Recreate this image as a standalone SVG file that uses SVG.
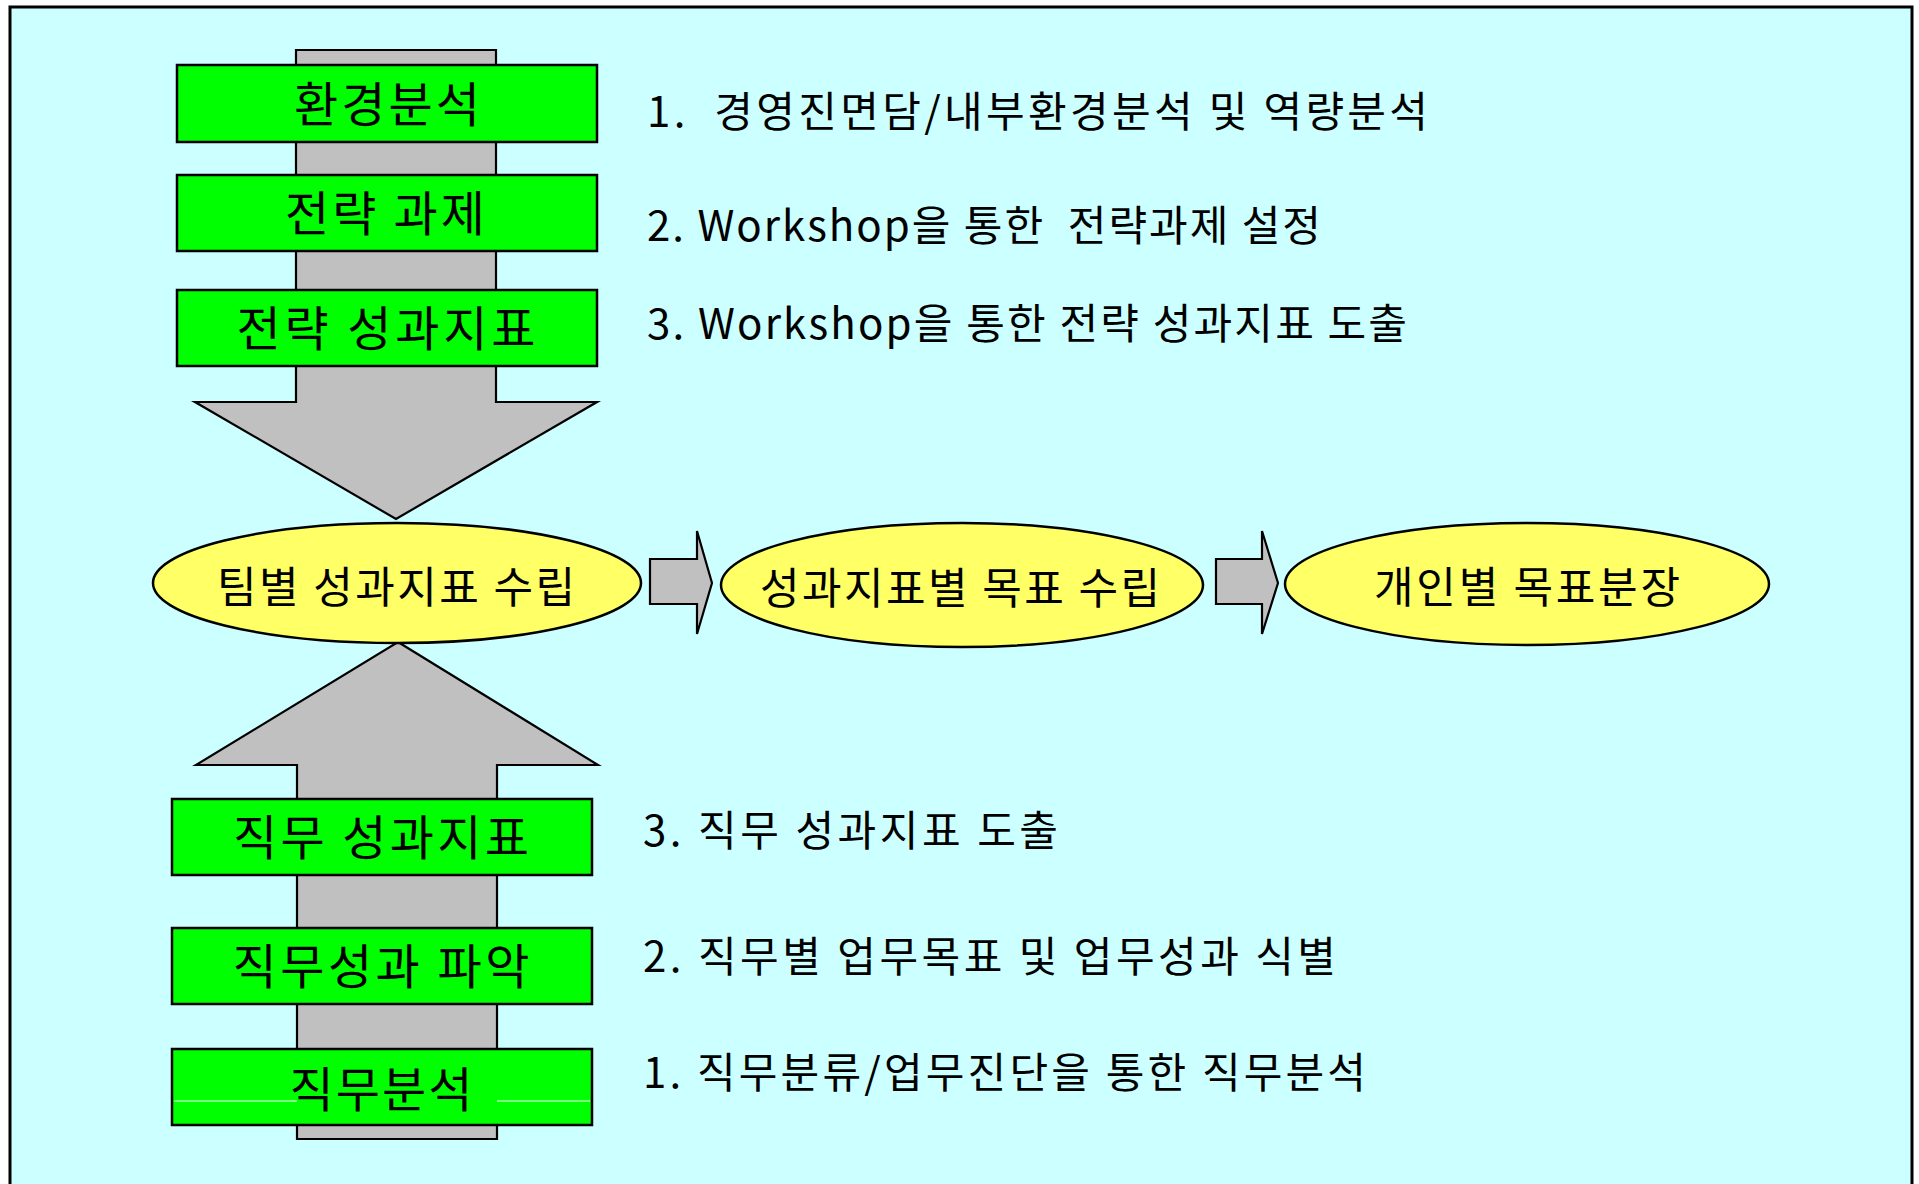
<svg xmlns="http://www.w3.org/2000/svg" width="1919" height="1184" viewBox="0 0 1919 1184">
<style>
.box{fill:#00FF00;stroke:#000;stroke-width:2.5}
.ell{fill:#FFFF66;stroke:#000;stroke-width:2.5}
.arr{fill:#C0C0C0;stroke:#000;stroke-width:2.2;stroke-linejoin:miter}
.bt{font-family:"Noto Sans CJK KR","Noto Sans",sans-serif;font-size:48px;fill:#000;text-anchor:middle}
.et{font-family:"Noto Sans CJK KR","Noto Sans",sans-serif;font-size:43px;fill:#000;text-anchor:middle}
.rt{font-family:"Noto Sans CJK KR","Noto Sans",sans-serif;font-size:42px;fill:#000;white-space:pre}
</style>
<rect x="0" y="0" width="1919" height="1184" fill="#FFFFFF"/>
<rect id="frame" x="10" y="7" width="1902" height="1200" fill="#CCFFFF" stroke="#000" stroke-width="3"/>
<g id="connectors">
<polygon id="arrow-down" class="arr" points="296,50 496,50 496,402 597,402 396,519 195,402 296,402"/>
<polygon id="arrow-up" class="arr" points="398,642 598,765 497,765 497,1139 297,1139 297,765 196,765"/>
<polygon id="arrow-right-1" class="arr" points="650,559 697,559 697,531 712,583 697,634 697,604 650,604"/>
<polygon id="arrow-right-2" class="arr" points="1216,559 1262,559 1262,531 1278,583 1262,634 1262,604 1216,604"/>
</g>
<g id="n-env"><rect class="box" x="177" y="65" width="420" height="77"/><text class="bt" x="387" y="122" textLength="186" lengthAdjust="spacing">환경분석</text></g>
<g id="n-task"><rect class="box" x="177" y="175" width="420" height="76"/><text class="bt" x="385" y="231" textLength="200" lengthAdjust="spacing">전략 과제</text></g>
<g id="n-skpi"><rect class="box" x="177" y="290" width="420" height="76"/><text class="bt" x="386" y="346" textLength="299" lengthAdjust="spacing">전략 성과지표</text></g>
<g id="n-jkpi"><rect class="box" x="172" y="799" width="420" height="76"/><text class="bt" x="381" y="855" textLength="296" lengthAdjust="spacing">직무 성과지표</text></g>
<g id="n-jperf"><rect class="box" x="172" y="928" width="420" height="76"/><text class="bt" x="381" y="984" textLength="297" lengthAdjust="spacing">직무성과 파악</text></g>
<g id="n-janal"><rect class="box" x="172" y="1049" width="420" height="76"/><line x1="174" y1="1101" x2="297" y2="1101" stroke="#FFFFFF" stroke-width="1"/><line x1="497" y1="1101" x2="590" y2="1101" stroke="#FFFFFF" stroke-width="1"/><text class="bt" x="381" y="1107" textLength="183" lengthAdjust="spacing">직무분석</text></g>
<g id="n-team"><ellipse class="ell" cx="397" cy="583" rx="244" ry="60"/><text class="et" x="396" y="603" textLength="358" lengthAdjust="spacing">팀별 성과지표 수립</text></g>
<g id="n-target"><ellipse class="ell" cx="962" cy="585" rx="241" ry="62"/><text class="et" x="960" y="604" textLength="400" lengthAdjust="spacing">성과지표별 목표 수립</text></g>
<g id="n-indiv"><ellipse class="ell" cx="1527" cy="584" rx="242" ry="61"/><text class="et" x="1527" y="603" textLength="306" lengthAdjust="spacing">개인별 목표분장</text></g>
<g id="labels">
<text class="rt" x="647" y="127" textLength="781" lengthAdjust="spacing" xml:space="preserve">1.  경영진면담/내부환경분석 및 역량분석</text>
<text class="rt" x="647" y="241" textLength="674" lengthAdjust="spacing" xml:space="preserve">2. Workshop을 통한  전략과제 설정</text>
<text class="rt" x="647" y="339" textLength="760" lengthAdjust="spacing">3. Workshop을 통한 전략 성과지표 도출</text>
<text class="rt" x="643" y="846" textLength="415" lengthAdjust="spacing">3. 직무 성과지표 도출</text>
<text class="rt" x="643" y="972" textLength="693" lengthAdjust="spacing">2. 직무별 업무목표 및 업무성과 식별</text>
<text class="rt" x="643" y="1088" textLength="723" lengthAdjust="spacing">1. 직무분류/업무진단을 통한 직무분석</text>
</g>
</svg>
